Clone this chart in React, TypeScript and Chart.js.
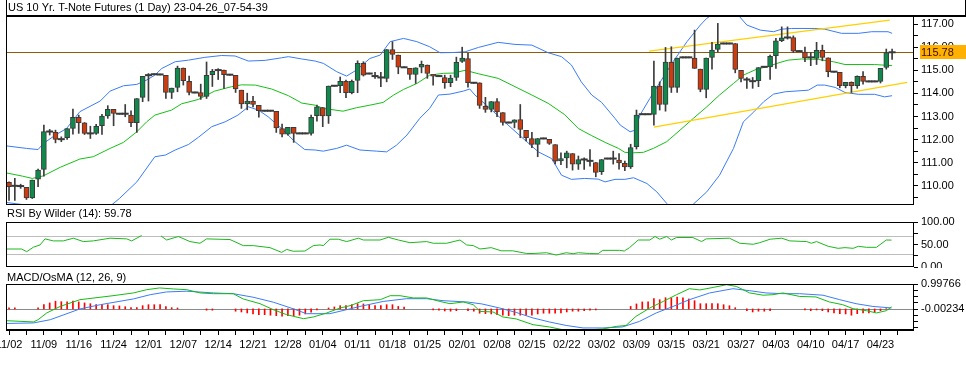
import React, { useEffect, useRef } from 'react';
import { Chart, registerables } from 'chart.js';
Chart.register(...registerables);

const TITLE = 'US 10 Yr. T-Note Futures (1 Day) 23-04-26_07-54-39';
const RSI_TITLE = 'RSI By Wilder (14): 59.78';
const MACD_TITLE = 'MACD/OsMA (12, 26, 9)';
const LAST_PRICE = 115.78;

const DATE_LABELS = ['11/02','11/09','11/16','11/24','12/01','12/07','12/14','12/21','12/28','01/04','01/11','01/18','01/25','02/01','02/08','02/15','02/22','03/02','03/09','03/15','03/21','03/27','04/03','04/10','04/17','04/23'];

const OPEN = [
110.15,110.00,109.99,109.93,109.48,110.29,110.71,112.35,112.31,112.02,
112.08,112.48,112.96,112.73,112.27,112.27,112.60,113.03,113.31,113.12,
113.12,113.06,112.73,113.83,114.79,114.83,114.82,114.78,114.04,114.26,
115.10,114.52,114.04,114.04,113.87,114.81,115.01,115.01,114.81,114.78,
114.14,113.55,113.67,113.48,113.25,113.25,113.22,112.48,112.24,112.53,
112.27,112.27,112.27,113.04,113.39,113.03,114.33,114.33,114.52,114.03,
114.56,115.30,114.86,114.75,114.69,114.65,115.90,115.66,115.13,115.08,
114.82,115.13,115.23,114.83,114.75,114.69,114.46,114.69,115.38,115.51,
114.46,114.46,113.44,113.31,113.65,113.17,112.74,112.74,112.87,112.40,
112.05,111.79,112.05,112.01,111.79,111.08,111.21,111.40,110.94,111.14,
111.08,111.01,110.61,111.18,111.18,111.11,110.97,110.82,111.69,113.10,
113.10,113.09,114.32,113.52,115.36,114.26,115.56,115.56,115.53,115.05,
114.17,115.56,115.90,116.16,116.16,116.16,115.00,114.60,114.53,114.55,
115.15,115.15,115.63,116.28,116.42,116.42,115.83,115.79,115.56,115.51,
115.86,115.54,114.94,114.91,114.33,114.48,114.33,114.74,114.52,114.52,
114.52,115.12,115.78];
const HIGH = [
110.17,110.32,110.07,109.93,110.25,110.72,112.63,112.44,112.41,112.12,
112.48,113.32,113.06,112.74,112.58,112.66,113.09,113.47,113.31,113.14,
113.52,113.25,113.78,114.74,114.86,114.85,114.84,114.78,114.23,115.18,
115.10,114.75,114.06,114.40,115.36,115.04,115.07,115.01,114.83,114.78,
114.14,114.01,113.87,113.48,113.27,113.27,113.22,112.67,112.53,112.53,
112.29,112.29,113.06,113.49,113.39,114.32,114.35,114.71,114.58,114.58,
115.41,115.37,114.88,114.91,114.91,115.90,116.24,115.66,115.15,115.08,
115.11,115.40,115.23,114.83,114.77,114.79,114.79,115.57,116.00,115.73,
114.48,114.46,113.83,113.65,113.78,113.17,112.76,112.86,113.52,112.40,
112.31,112.05,112.07,112.01,111.79,111.43,111.50,111.40,111.29,111.21,
111.57,111.01,111.14,111.20,111.50,111.40,111.07,111.80,113.28,113.12,
113.12,115.40,114.50,115.99,116.02,115.53,115.58,115.58,116.74,115.05,
115.53,116.21,117.03,116.18,116.18,116.16,115.00,114.69,114.69,115.12,
115.17,115.66,116.38,116.88,116.88,116.49,115.85,116.00,115.77,116.21,
116.09,115.54,114.96,114.91,114.48,114.50,114.76,114.94,114.54,114.54,
115.08,115.92,115.92];
const LOW = [
109.37,109.37,109.89,109.41,109.45,109.96,110.42,112.20,111.86,111.91,
112.01,112.24,112.27,112.22,112.05,112.22,112.22,112.92,112.60,113.10,
112.99,112.56,112.31,113.64,113.67,114.81,114.80,113.78,113.78,114.07,
114.36,113.93,114.02,113.74,113.78,114.30,114.60,114.22,114.79,114.04,
113.35,113.29,113.41,112.97,113.23,113.23,112.31,112.12,112.19,111.88,
112.25,112.25,112.19,112.80,112.56,112.70,114.31,114.03,113.81,113.98,
114.03,114.75,114.84,114.65,114.29,114.50,115.47,114.85,115.11,114.60,
114.43,114.89,114.65,114.36,114.73,114.22,114.29,114.56,115.34,114.27,
114.44,113.35,113.18,113.20,112.99,112.63,112.72,112.51,112.08,111.94,
111.65,111.26,112.03,111.79,110.95,110.92,110.78,110.68,110.71,110.71,
110.85,110.39,110.49,111.16,110.94,110.72,110.66,110.75,111.59,113.08,
113.08,112.63,113.28,113.23,114.04,114.04,115.54,115.54,115.08,114.07,
113.81,115.05,115.80,116.14,116.14,114.89,114.50,114.22,114.22,114.29,
115.13,114.60,115.08,116.24,116.35,115.77,115.81,115.37,115.20,115.25,
115.41,114.72,114.92,114.24,114.24,114.04,114.22,114.40,114.50,114.50,
114.45,115.05,115.47];
const CLOSE = [
109.96,110.00,109.99,109.48,110.25,110.68,112.35,112.35,112.01,112.02,
112.48,112.96,112.73,112.27,112.27,112.58,113.02,113.31,113.13,113.12,
113.12,112.73,113.78,114.74,114.79,114.83,114.82,114.04,114.23,115.10,
114.55,114.04,114.04,113.87,114.78,114.95,115.01,114.81,114.81,114.19,
113.55,113.67,113.52,113.25,113.25,113.25,112.51,112.24,112.53,112.27,
112.27,112.27,112.96,113.42,113.03,114.32,114.33,114.52,114.03,114.52,
115.30,114.79,114.86,114.75,114.69,115.90,115.69,115.13,115.13,114.82,
115.11,115.26,114.86,114.75,114.75,114.46,114.66,115.34,115.53,114.46,
114.46,113.48,113.31,113.65,113.20,112.74,112.74,112.86,112.44,112.08,
111.79,112.05,112.05,111.83,111.07,111.18,111.43,110.94,111.14,111.14,
111.08,110.58,111.14,111.18,111.18,110.99,110.82,111.66,113.06,113.10,
113.10,114.32,113.52,115.36,114.26,115.53,115.56,115.56,115.08,114.17,
115.53,115.88,116.13,116.16,116.16,115.04,114.65,114.60,114.53,115.12,
115.15,115.60,116.27,116.41,116.42,115.83,115.83,115.54,115.56,115.86,
115.56,114.94,114.94,114.33,114.48,114.33,114.74,114.52,114.52,114.52,
115.08,115.77,115.78];

// Bollinger bands (bar index, value)
const BB_UPPER = [[-0.5,111.73],[3,111.62],[5,111.57],[5.9,111.83],[8,112.2],[9.9,112.48],[12.2,113.21],[15.7,113.67],[17.4,114.1],[19.7,114.33],[22,114.39],[23.7,114.58],[25.1,114.79],[26.3,115.08],[28.6,115.37],[30.9,115.44],[33.7,115.56],[36.6,115.64],[38.9,115.62],[41.2,115.4],[44.1,115.43],[46.9,115.54],[48.1,115.59],[50.4,115.49],[52.7,115.4],[54.1,115.3],[56.4,114.94],[58.1,114.75],[59.8,115.01],[62.1,115.51],[63.9,115.66],[65.6,116.24],[67.9,116.38],[70.2,116.24],[72.4,116.02],[74.2,115.76],[76.5,115.77],[78.5,115.8],[80.8,115.99],[84.2,116.21],[87.1,116.12],[90,116.09],[92.8,115.76],[95.1,115.59],[96.8,115.23],[98.5,114.5],[100.3,113.93],[102,113.61],[104.3,112.92],[105.2,112.63],[106.9,112.34],[107.8,112.41],[108.6,113.06],[110.3,113.78],[112.1,114.5],[114.3,115.37],[116.7,116.24],[119,116.96],[120.1,117.25],[121.3,117.45],[123,117.7],[125.3,117.45],[127,116.96],[129.3,116.74],[131.6,116.67],[133,116.78],[134.7,116.81],[138.7,116.81],[140.4,116.78],[143.3,116.6],[146.2,116.6],[148.5,116.67],[151.3,116.67],[152,116.6]];
const BB_MIDDLE = [[-0.5,110.56],[2.3,110.42],[4,110.32],[5.9,110.43],[8.8,110.8],[12.2,111.16],[14.5,111.26],[17.4,111.62],[19.7,111.88],[22,112.34],[23.7,112.77],[25.1,113.06],[28,113.28],[29.7,113.55],[32.6,113.74],[35.4,114.1],[38.3,114.29],[40,114.37],[42.4,114.36],[45.2,114.19],[48.1,113.9],[50.4,113.58],[52.7,113.49],[54.1,113.35],[57.5,113.23],[59.8,113.38],[62.1,113.49],[64.4,113.61],[66.2,113.93],[67.9,114.17],[70.2,114.43],[72.4,114.79],[74.8,114.87],[76.5,114.88],[78.5,115.0],[80.8,114.85],[84.2,114.65],[87.1,114.29],[90,113.93],[92.8,113.57],[95.6,113.09],[98,112.48],[100.3,112.17],[102.6,111.88],[104.9,111.62],[106,111.45],[107.5,111.43],[109.2,111.45],[110.9,111.62],[113.2,111.91],[115.5,112.41],[117.8,112.92],[120.1,113.42],[122.3,113.93],[124.7,114.43],[126.4,114.79],[128.7,115.05],[130.4,115.15],[132.7,115.34],[134.1,115.44],[136.4,115.49],[139.3,115.47],[141.9,115.37],[143.9,115.25],[149,115.25],[152,115.2]];
const BB_LOWER = [[-0.5,109.28],[2.3,109.19],[3.5,109.1],[6,108.7],[9,108.45],[12,108.5],[15,108.75],[17.5,109.14],[19,109.45],[22,110.17],[25.1,111.26],[26.9,111.33],[28.6,111.55],[30.9,111.79],[32.6,112.1],[34.9,112.56],[37.2,112.77],[39.4,113.06],[41.2,113.42],[42.9,113.28],[44.6,112.99],[46.9,112.48],[49.2,111.91],[50.9,111.57],[52.7,111.55],[54.1,111.5],[56.4,111.62],[58.1,111.76],[60.4,111.55],[63.3,111.5],[65,111.47],[66.7,111.76],[68.5,112.2],[70.7,112.92],[72.4,113.35],[73.9,113.93],[75.9,113.97],[78.2,114.1],[79.3,114.19],[80.2,113.93],[83.1,113.28],[85.9,112.63],[88.8,111.98],[91.1,111.47],[93.4,111.18],[95.1,110.46],[96.8,110.28],[99.1,110.32],[101.4,110.29],[102.6,110.17],[104.3,110.28],[106,110.28],[107.5,110.35],[109.8,110.1],[111.5,109.74],[113.2,109.24],[114.5,108.9],[116,108.8],[117.5,109.14],[120.1,109.74],[122.3,110.46],[124.7,111.62],[126.4,112.77],[128.2,113.2],[129.9,113.64],[131.6,113.97],[133.6,114.07],[137.6,114.14],[139.1,114.36],[140.4,114.36],[142.2,114.26],[143.9,114.04],[146.2,113.96],[149,113.96],[150.7,113.85],[152,113.9]];

// Channel trend lines
const CHANNEL_UPPER = [[110.2,115.83],[151.6,117.17]];
const CHANNEL_LOWER = [[111.0,112.54],[154.6,114.48]];

// RSI (bar index, value); null = hidden stretch
const RSI = [[-0.4,40],[2.18,40],[3.04,34],[4.19,44],[5.34,49],[6.2,62.5],[7.63,58],[9.35,58],[11.07,64],[12.79,56.5],[14.51,58],[17.38,64],[20.25,62.5],[21.11,58],[22.83,70],[24.5,null],[26.16,69],[27.13,60],[29.15,67.75],[31.15,56.5],[32.87,52.75],[34.02,62.5],[38.04,61],[40.33,47.5],[42.05,47.5],[44.92,43],[46.93,32.5],[47.79,39],[48.94,35],[50.94,35.5],[52.38,47.5],[53.53,49],[54.1,47.5],[55.25,61.75],[56.68,61.75],[58.12,56.5],[60.13,64],[60.99,60],[63.86,60],[65.29,66],[67.01,60],[69.02,54],[71.89,56.5],[73.03,52.75],[75.33,52.75],[77.62,60],[78.77,49],[79.92,47.5],[81.07,40],[83,43],[84.7,36],[86.7,36],[89.1,30],[90.2,30],[92.5,31.75],[94.2,26.5],[95.9,31.75],[97.1,29.5],[98,31.75],[99.9,30],[101.4,29.5],[102.2,37],[105.1,37],[105.9,35.5],[106.8,43],[108.3,60],[110.3,60],[111.2,67.75],[112,61.75],[113.2,67.75],[114,60],[114.9,65.5],[117.7,65.5],[119.2,56.5],[120,62.5],[124,64],[125.8,52.75],[128.1,50.5],[129.2,54],[131,61.75],[133,64],[134.4,58],[137.3,56.5],[138.1,52.75],[139,56.5],[141,46],[142.7,41.5],[143.9,43],[145.3,41.5],[146.2,46],[147.6,43.75],[149.3,43.75],[151,60],[151.9,59.78]];

const MACD = [[-0.4,-0.47],[4.2,-0.52],[5,-0.43],[6.5,-0.16],[8.8,0.1],[12.2,0.37],[17.9,0.53],[21.4,0.64],[23.7,0.77],[25.9,0.84],[28.3,0.8],[30.6,0.77],[32.9,0.64],[35.2,0.61],[38.6,0.61],[40.3,0.4],[43.2,0.21],[45.5,-0.03],[47.8,-0.23],[50.7,-0.39],[52.4,-0.32],[54.7,-0.16],[57,0.04],[58.7,0.13],[61,0.33],[63.9,0.37],[65.6,0.53],[67.3,0.53],[69.6,0.44],[71.9,0.44],[74.2,0.3],[75.9,0.21],[78.2,0.28],[79.9,0.17],[81.1,-0.1],[83.3,-0.12],[85,-0.32],[87.3,-0.4],[90.2,-0.63],[93,-0.72],[95.3,-0.83],[98.8,-0.85],[102.2,-0.8],[104.5,-0.7],[106.2,-0.66],[107.9,-0.3],[110.3,0.04],[112.6,0.3],[114.9,0.57],[117.1,0.81],[118.9,0.76],[121.2,0.86],[123.5,0.97],[125.2,0.9],[127.5,0.64],[129.8,0.55],[131.5,0.57],[133.2,0.64],[136.1,0.5],[138.9,0.48],[141.2,0.28],[143.5,0.17],[145.3,0.01],[147.6,-0.07],[149.3,-0.16],[151,-0.07],[151.9,0.08]];
const SIGNAL = [[-0.4,-0.58],[4.2,-0.56],[7.1,-0.43],[12.2,0],[15.7,0.17],[21.4,0.4],[24.3,0.57],[27.1,0.68],[30.6,0.71],[35.2,0.64],[38.6,0.61],[42,0.47],[45.5,0.27],[49,0],[51.2,-0.19],[55.2,-0.19],[58.1,-0.03],[60.4,0.1],[64.4,0.3],[68.4,0.41],[71.9,0.41],[74.7,0.33],[78.8,0.28],[81.4,0.2],[84.4,0.04],[87.3,-0.14],[90.2,-0.36],[93,-0.52],[95.9,-0.66],[98.8,-0.76],[102.2,-0.76],[105.6,-0.72],[108.5,-0.5],[111.4,-0.16],[114.3,0.1],[117.1,0.37],[120.6,0.64],[124.6,0.81],[127.5,0.73],[130.3,0.64],[133.2,0.61],[136.1,0.61],[140.1,0.55],[143,0.37],[145.8,0.21],[148.7,0.1],[151.9,0.04]];
const OSMA = [
0.04,0.04,0,0,0,0.04,0.17,0.24,0.31,0.29,
0.28,0.31,0.28,0.24,0.21,0.17,0.17,0.17,0.13,0.12,
0.09,0.05,0.05,0.13,0.17,0.17,0.17,0.09,0.05,0.04,
0,0,0,0,-0.05,-0.05,0,0,0,-0.09,
-0.12,-0.16,-0.2,-0.23,-0.23,-0.25,-0.27,-0.29,-0.27,-0.27,
-0.25,-0.2,-0.13,-0.04,0,0.04,0.08,0.13,0.13,0.17,
0.21,0.2,0.17,0.13,0.13,0.17,0.17,0.1,0.07,0,
0,0,0,-0.04,-0.05,-0.08,-0.09,-0.07,0,-0.07,
-0.09,-0.17,-0.19,-0.2,-0.23,-0.25,-0.27,-0.25,-0.25,-0.25,
-0.25,-0.2,-0.17,-0.17,-0.17,-0.16,-0.12,-0.09,-0.09,-0.07,
-0.05,-0.04,0,0,0,0,0,0.1,0.2,0.28,
0.28,0.41,0.37,0.45,0.44,0.47,0.44,0.4,0.33,0.21,
0.21,0.21,0.21,0.17,0.13,0.05,0,-0.07,-0.12,-0.09,
-0.09,-0.07,0,0,0,0,0,-0.04,-0.07,-0.04,
-0.07,-0.12,-0.16,-0.19,-0.2,-0.25,-0.19,-0.16,-0.16,-0.13,
-0.07,0.01,0];

const PRICE_TICKS = [109.5,110,110.5,111,111.5,112,112.5,113,113.5,114,114.5,115,115.5,116,116.5,117];
const RSI_TICKS = [0,25,50,75,100];
const RSI_LABELED = [0,50,100];
const RSI_LEVELS = [70,30];
const MACD_TICKS = [0.99766,0.74766,0.49766,0.24766,-0.00234,-0.25234,-0.50234,-0.75234];
const MACD_LABELED = [0.99766,-0.00234];

const X_MIN = -0.52;
const X_MAX = 155.77;
const FONT = "'Liberation Sans', Arial, sans-serif";
const W = 966;

const pts = (arr: any[]) => arr.map(([x, y]) => ({ x, y }));

function baseOptions(extra: any) {
  return {
    responsive: false,
    animation: false,
    devicePixelRatio: 1,
    events: [],
    plugins: { legend: { display: false }, tooltip: { enabled: false } },
    ...extra,
  };
}

function yAxis(min: number, max: number, ticks: number[], label: (v: number) => string) {
  return {
    position: 'right',
    min, max,
    afterBuildTicks: (s: any) => { s.ticks = ticks.map((v) => ({ value: v })); },
    ticks: { callback: (v: number) => label(v), color: '#000', padding: 3, font: { family: FONT, size: 11 }, autoSkip: false },
    grid: { drawOnChartArea: false, drawTicks: true, tickLength: 4, color: '#000' },
    border: { display: false },
    afterFit: (s: any) => { s.width = W - 914; s.paddingTop = 0; s.paddingBottom = 0; },
  };
}

function hiddenX() {
  return { type: 'linear', min: X_MIN, max: X_MAX, offset: false, display: false, grid: { offset: false } };
}

function frame(ctx: CanvasRenderingContext2D, a: any) {
  ctx.save();
  ctx.strokeStyle = '#000';
  ctx.lineWidth = 1;
  ctx.strokeRect(a.left + 0.5, a.top + 0.5, a.right - a.left - 1, a.bottom - a.top - 1);
  ctx.restore();
}

function label(ctx: CanvasRenderingContext2D, text: string, x: number, y: number) {
  ctx.save();
  ctx.font = `11px ${FONT}`;
  ctx.fillStyle = '#000';
  ctx.textBaseline = 'middle';
  ctx.textAlign = 'left';
  ctx.fillText(text, x, y);
  ctx.restore();
}

function hline(chart: any, value: number, color: string) {
  const ctx = chart.ctx; const a = chart.chartArea;
  const y = Math.round(chart.scales.y.getPixelForValue(value)) + 0.5;
  ctx.save(); ctx.strokeStyle = color; ctx.lineWidth = 1;
  ctx.beginPath(); ctx.moveTo(a.left, y); ctx.lineTo(a.right, y); ctx.stroke(); ctx.restore();
}

export default function App() {
  const mainRef = useRef<HTMLCanvasElement>(null);
  const rsiRef = useRef<HTMLCanvasElement>(null);
  const macdRef = useRef<HTMLCanvasElement>(null);

  useEffect(() => {
    const idx = OPEN.map((_, i) => i);
    const isDoji = (i: number) => Math.abs(OPEN[i] - CLOSE[i]) < 0.01;
    const bodies = idx.filter((i) => !isDoji(i));

    const mainDeco = {
      id: 'mainDeco',
      beforeDatasetsDraw(chart: any) { hline(chart, LAST_PRICE, '#8c5c0a'); },
      afterDraw(chart: any) {
        const ctx = chart.ctx; const a = chart.chartArea;
        frame(ctx, a);
        ctx.save();
        ctx.fillStyle = '#000';
        ctx.fillRect(6, 15, W - 6, 2);
        ctx.fillRect(6, 0, 1, 16);
        ctx.fillRect(W - 1, 0, 1, 16);
        ctx.restore();
        label(ctx, TITLE, 8, 8);
        const y = chart.scales.y.getPixelForValue(LAST_PRICE);
        ctx.save();
        ctx.fillStyle = '#ffb000';
        ctx.fillRect(920, Math.round(y) - 7, W - 920, 14);
        ctx.restore();
        ctx.save();
        ctx.font = `11px ${FONT}`; ctx.fillStyle = '#3a1200'; ctx.textBaseline = 'middle';
        ctx.fillText(LAST_PRICE.toFixed(2), 921, Math.round(y) + 0.5);
        ctx.restore();
      },
    };

    const main = new Chart(mainRef.current as HTMLCanvasElement, {
      type: 'bar',
      data: {
        datasets: [
          { type: 'line', data: idx.filter(isDoji).map((i) => ({ x: i, y: CLOSE[i] })), showLine: false, pointStyle: 'line', pointRadius: 3.5, pointBorderWidth: 2, pointBorderColor: '#3a3a3a', borderColor: '#3a3a3a', order: 0 } as any,
          { type: 'bar', data: bodies.map((i) => ({ x: i, y: [OPEN[i], CLOSE[i]] })), backgroundColor: bodies.map((i) => (CLOSE[i] > OPEN[i] ? '#0f8a4c' : '#cc3c0e')), borderColor: '#3a3a3a', borderWidth: 1, borderSkipped: false, barThickness: 5, grouped: false, order: 1 } as any,
          { type: 'bar', data: idx.map((i) => ({ x: i, y: [LOW[i], HIGH[i]] })), backgroundColor: '#3c3c3c', barThickness: 1, grouped: false, order: 2 } as any,
          { type: 'line', data: pts(CHANNEL_UPPER), borderColor: '#ffd000', borderWidth: 1.2, pointRadius: 0, order: 3 } as any,
          { type: 'line', data: pts(CHANNEL_LOWER), borderColor: '#ffd000', borderWidth: 1.2, pointRadius: 0, order: 3 } as any,
          { type: 'line', data: pts(BB_UPPER), borderColor: '#3a7cf6', borderWidth: 1, pointRadius: 0, order: 4 } as any,
          { type: 'line', data: pts(BB_MIDDLE), borderColor: '#16c016', borderWidth: 1, pointRadius: 0, order: 4 } as any,
          { type: 'line', data: pts(BB_LOWER), borderColor: '#3a7cf6', borderWidth: 1, pointRadius: 0, order: 4 } as any,
        ],
      },
      options: baseOptions({
        layout: { autoPadding: false, padding: { left: 6, top: 16, right: 0, bottom: 1 } },
        scales: {
          x: hiddenX(),
          y: yAxis(109.17, 117.35, PRICE_TICKS, (v) => (Math.abs(v - Math.round(v)) < 1e-6 ? v.toFixed(2) : '')),
        },
      }),
      plugins: [mainDeco],
    } as any);

    const rsiDeco = {
      id: 'rsiDeco',
      beforeDatasetsDraw(chart: any) { RSI_LEVELS.forEach((l) => hline(chart, l, '#bdbdbd')); },
      afterDraw(chart: any) { frame(chart.ctx, chart.chartArea); label(chart.ctx, RSI_TITLE, 7, 7.5); },
    };
    const rsi = new Chart(rsiRef.current as HTMLCanvasElement, {
      type: 'line',
      data: { datasets: [{ data: pts(RSI), borderColor: '#1cb81c', borderWidth: 1, pointRadius: 0, spanGaps: false }] },
      options: baseOptions({
        layout: { autoPadding: false, padding: { left: 6, top: 16, right: 0, bottom: 1 } },
        scales: {
          x: hiddenX(),
          y: yAxis(0, 100, RSI_TICKS, (v) => (RSI_LABELED.includes(v) ? v.toFixed(2) : '')),
        },
      }),
      plugins: [rsiDeco],
    } as any);

    const macdDeco = {
      id: 'macdDeco',
      beforeDatasetsDraw(chart: any) { hline(chart, 0, '#8a8a8a'); },
      afterDraw(chart: any) {
        const a = chart.chartArea;
        frame(chart.ctx, a);
        chart.ctx.save(); chart.ctx.fillStyle = '#000'; chart.ctx.fillRect(a.left, a.bottom - 2, a.right - a.left, 2); chart.ctx.restore();
        label(chart.ctx, MACD_TITLE, 7, 9.5);
      },
    };
    const macd = new Chart(macdRef.current as HTMLCanvasElement, {
      type: 'bar',
      data: {
        datasets: [
          { type: 'line', data: pts(MACD), borderColor: '#14bc14', borderWidth: 1, pointRadius: 0, order: 1 } as any,
          { type: 'line', data: pts(SIGNAL), borderColor: '#3a7cf6', borderWidth: 1, pointRadius: 0, order: 2 } as any,
          { type: 'bar', data: idx.filter((i) => OSMA[i] !== 0).map((i) => ({ x: i, y: OSMA[i] })), backgroundColor: '#ff0000', barThickness: 1, grouped: false, order: 3 } as any,
        ],
      },
      options: baseOptions({
        layout: { autoPadding: false, padding: { left: 6, top: 16, right: 0, bottom: 0 } },
        scales: {
          x: {
            type: 'linear', min: X_MIN, max: X_MAX, offset: false, position: 'bottom',
            afterBuildTicks: (s: any) => {
              const t: any[] = [];
              for (let v = 0; v <= 153; v += 3) t.push({ value: v });
              s.ticks = t;
            },
            ticks: {
              autoSkip: false, maxRotation: 0, minRotation: 0, color: '#000', padding: 3,
              font: { family: FONT, size: 11 },
              callback: (v: number) => { const r = Math.round(v); return r % 6 === 0 && DATE_LABELS[r / 6] ? DATE_LABELS[r / 6] : ''; },
            },
            grid: { offset: false, drawOnChartArea: false, drawTicks: true, tickLength: 4, color: '#000' },
            border: { display: false },
            afterFit: (s: any) => { s.height = 42; s.paddingLeft = 0; s.paddingRight = 0; },
          },
          y: yAxis(-0.882, 0.99766, MACD_TICKS, (v) => (MACD_LABELED.some((m) => Math.abs(m - v) < 1e-6) ? v.toFixed(5) : '')),
        },
      }),
      plugins: [macdDeco],
    } as any);

    return () => { main.destroy(); rsi.destroy(); macd.destroy(); };
  }, []);

  return (
    <div style={{ position: 'fixed', left: 0, top: 0, width: W, height: 373, background: '#fff', overflow: 'hidden' }}>
      <canvas ref={mainRef} width={W} height={206} style={{ position: 'absolute', left: 0, top: 0 }} />
      <canvas ref={rsiRef} width={W} height={62} style={{ position: 'absolute', left: 0, top: 206 }} />
      <canvas ref={macdRef} width={W} height={105} style={{ position: 'absolute', left: 0, top: 268 }} />
    </div>
  );
}
